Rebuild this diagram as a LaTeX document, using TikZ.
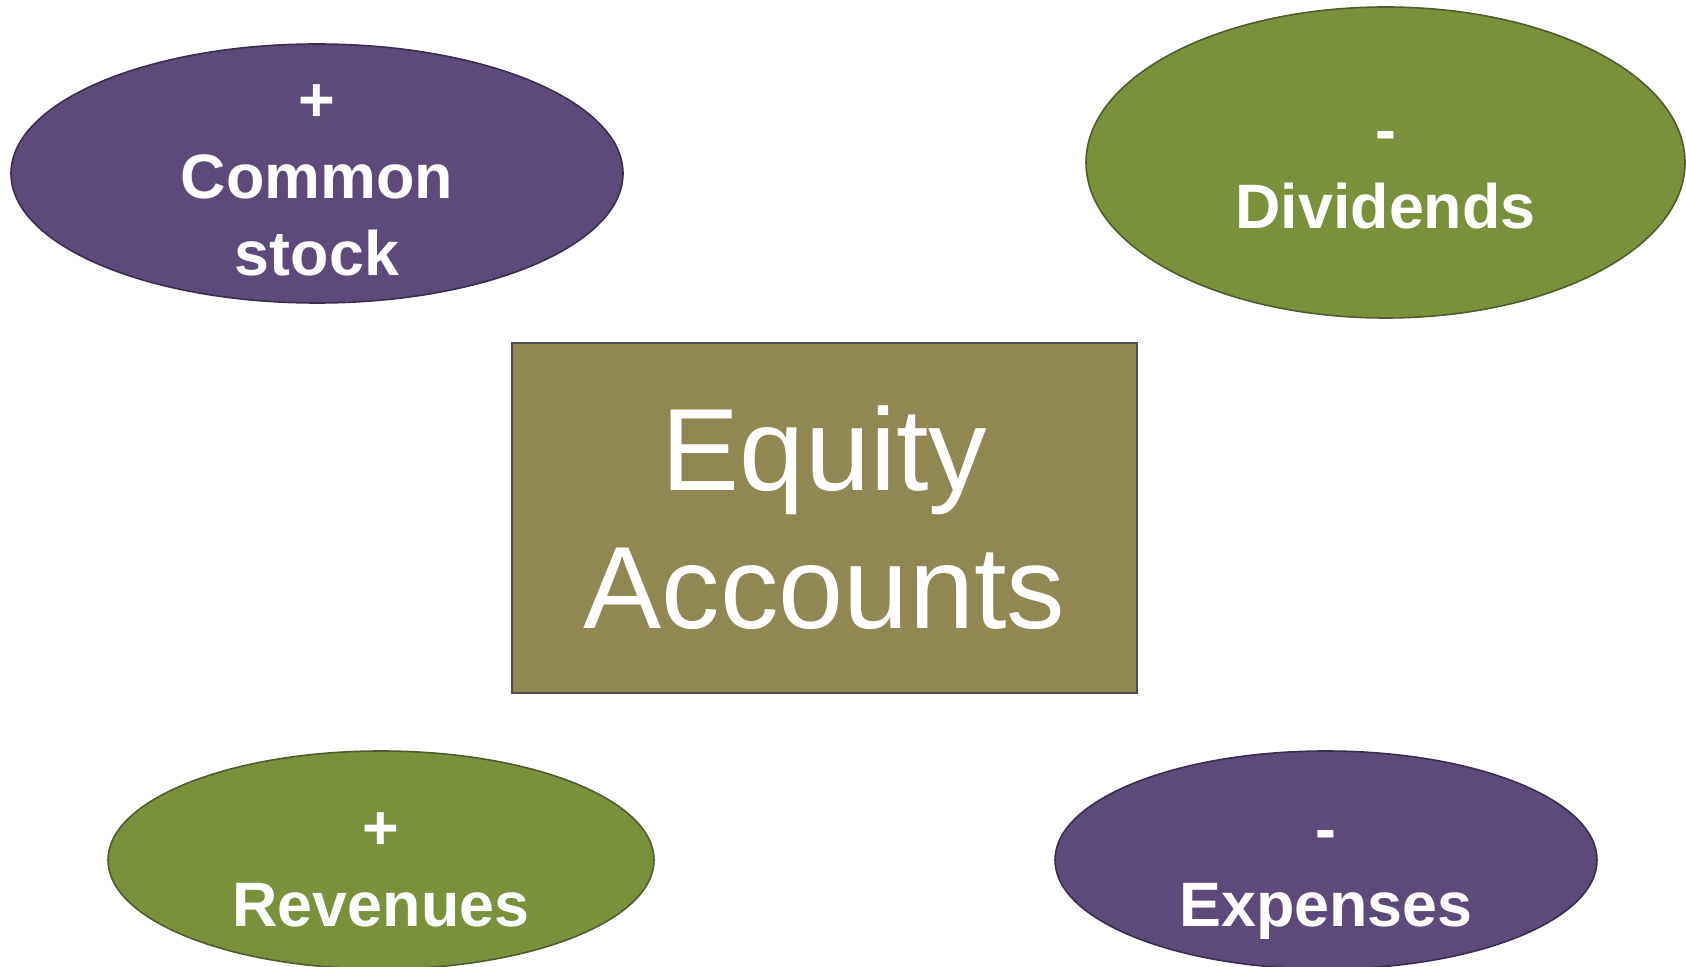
\documentclass[tikz,border=0pt]{standalone}
\usepackage{fontspec}
\setmainfont{Liberation Sans}
\usetikzlibrary{shapes.geometric,positioning}
\definecolor{plum}{HTML}{5E4A7A}
\definecolor{plumedge}{HTML}{3A2E4E}
\definecolor{moss}{HTML}{7A913B}
\definecolor{mossedge}{HTML}{4E5C2E}
\definecolor{olive}{HTML}{918752}
\definecolor{boxedge}{HTML}{4D4D4D}

\begin{document}
\begin{tikzpicture}[x=0.5pt,y=-0.5pt]
	\tikzstyle{Oval}	= [ellipse, draw, line width=0.8pt, inner sep=0pt]
	\tikzstyle{Purple}	= [fill=plum, draw=plumedge]
	\tikzstyle{Green}	= [fill=moss, draw=mossedge]
	\tikzstyle{Word}	= [text=white, align=center, inner sep=0pt, font=\fontsize{31.4}{38.5}\selectfont\bfseries]
	\tikzstyle{Box}		= [rectangle, draw=boxedge, fill=olive, line width=1.2pt, inner sep=0pt, text=white, align=center, font=\fontsize{58.5}{69}\selectfont]

	\useasboundingbox (0,0) rectangle (1686,967);

	\node (cs) at (317,173.5) [Oval][Purple][minimum width=306pt, minimum height=129.5pt] {};
	\node (dv) at (1385.5,162.5) [Oval][Green][minimum width=299.5pt, minimum height=155.5pt] {};
	\node (rv) at (381,860) [Oval][Green][minimum width=273pt, minimum height=109pt] {};
	\node (ex) at (1326,860) [Oval][Purple][minimum width=271pt, minimum height=109pt] {};

	\node (eq) at (824.5,518) [Box][minimum width=312.5pt, minimum height=175pt] {Equity\\Accounts};

	\node (cslab) at (317,180) [Word] {+\\Common\\stock};
	\node (dvlab) at (1385.5,180) [Word] {-\\Dividends};
	\node (rvlab) at (381,870) [Word] {+\\Revenues};
	\node (exlab) at (1326,885) [Word] {-\\Expenses};
\end{tikzpicture}
\end{document}
